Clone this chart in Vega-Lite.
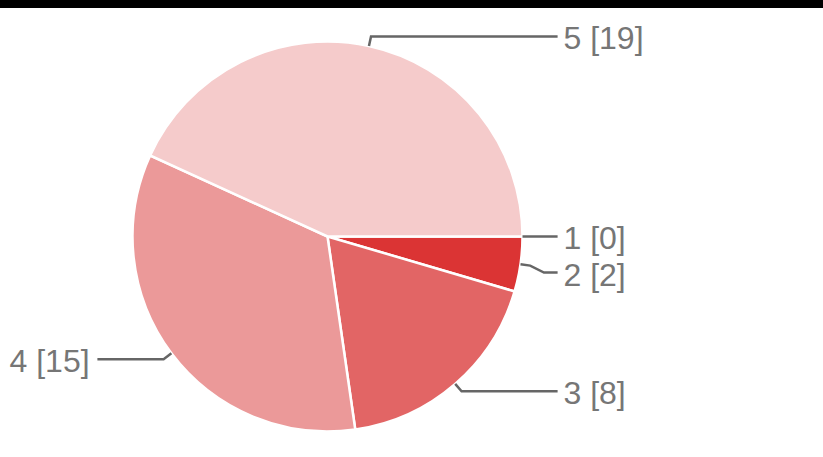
{
  "$schema": "https://vega.github.io/schema/vega-lite/v6.json",
  "width": 823,
  "height": 449,
  "autosize": {"type": "none"},
  "padding": {"top": 8, "left": 0, "right": 0, "bottom": 0},
  "background": "#000000",
  "view": {"fill": "#ffffff", "stroke": null},
  "data": {
    "values": [
      {"answer": "1", "count": 0},
      {"answer": "2", "count": 2},
      {"answer": "3", "count": 8},
      {"answer": "4", "count": 15},
      {"answer": "5", "count": 19}
    ]
  },
  "layer": [
    {
      "mark": {"type": "arc", "outerRadius": 195, "stroke": "#ffffff", "strokeWidth": 2.5},
      "encoding": {
        "x": {"datum": 0, "type": "quantitative", "scale": {"domain": [-1.6795, 2.541], "nice": false, "zero": false}, "axis": null},
        "y": {"datum": 0, "type": "quantitative", "scale": {"domain": [-1.1718, 1.1308], "nice": false, "zero": false, "reverse": true}, "axis": null},
        "theta": {"field": "count", "type": "quantitative", "stack": true, "scale": {"range": [1.5707963, 7.8539816]}},
        "order": {"field": "answer", "type": "ordinal", "sort": "ascending"},
        "color": {
          "field": "answer",
          "type": "nominal",
          "scale": {"domain": ["1", "2", "3", "4", "5"], "range": ["#cc0000", "#db3434", "#e26565", "#eb9999", "#f5cbcb"]},
          "legend": null
        }
      }
    },
    {
      "transform": [
        {"joinaggregate": [{"op": "sum", "field": "count", "as": "total"}]},
        {"window": [{"op": "sum", "field": "count", "as": "cum"}], "sort": [{"field": "answer", "order": "ascending"}], "frame": [null, 0]},
        {"calculate": "PI / 2 + 2 * PI * (datum.cum - datum.count / 2) / datum.total", "as": "a"},
        {"calculate": "sin(datum.a)", "as": "ux"},
        {"calculate": "-cos(datum.a)", "as": "uy"},
        {"calculate": "datum.ux >= -0.0001 ? 1 : -1", "as": "side"},
        {"calculate": "1.05 * datum.ux", "as": "ex"},
        {"calculate": "1.05 * datum.uy", "as": "ey"},
        {"window": [{"op": "row_number", "as": "rank"}], "groupby": ["side"], "sort": [{"field": "ey", "order": "ascending"}]},
        {"calculate": "datum.ey - datum.rank * 0.185", "as": "t"},
        {"window": [{"op": "max", "field": "t", "as": "mt"}], "groupby": ["side"], "sort": [{"field": "ey", "order": "ascending"}], "frame": [null, 0]},
        {"calculate": "datum.mt + datum.rank * 0.185", "as": "ly"},
        {"calculate": "datum.answer + ' [' + datum.count + ']'", "as": "lab"}
      ],
      "layer": [
        {
          "transform": [
            {"calculate": "datum.ux", "as": "x0"},
            {"calculate": "datum.ex", "as": "x1"},
            {"calculate": "datum.side * 1.11", "as": "x2"},
            {"calculate": "datum.side * 1.18", "as": "x3"},
            {"fold": ["x0", "x1", "x2", "x3"], "as": ["pt", "px"]},
            {"calculate": "datum.pt == 'x0' ? datum.uy : (datum.pt == 'x1' ? datum.ey : datum.ly)", "as": "py"}
          ],
          "mark": {"type": "line", "color": "#666666", "strokeWidth": 2.5, "strokeJoin": "miter"},
          "encoding": {
            "x": {"field": "px", "type": "quantitative"},
            "y": {"field": "py", "type": "quantitative"},
            "detail": {"field": "answer", "type": "nominal"},
            "order": {"field": "pt", "type": "ordinal"}
          }
        },
        {
          "transform": [{"filter": "datum.side > 0"}, {"calculate": "1.21", "as": "lx"}],
          "mark": {"type": "text", "align": "left", "baseline": "middle", "dy": 3, "font": "Liberation Sans", "fontSize": 32, "color": "#767676"},
          "encoding": {
            "x": {"field": "lx", "type": "quantitative"},
            "y": {"field": "ly", "type": "quantitative"},
            "text": {"field": "lab", "type": "nominal"}
          }
        },
        {
          "transform": [{"filter": "datum.side < 0"}, {"calculate": "-1.22", "as": "lx"}],
          "mark": {"type": "text", "align": "right", "baseline": "middle", "dy": 3, "font": "Liberation Sans", "fontSize": 32, "color": "#767676"},
          "encoding": {
            "x": {"field": "lx", "type": "quantitative"},
            "y": {"field": "ly", "type": "quantitative"},
            "text": {"field": "lab", "type": "nominal"}
          }
        }
      ]
    }
  ]
}
